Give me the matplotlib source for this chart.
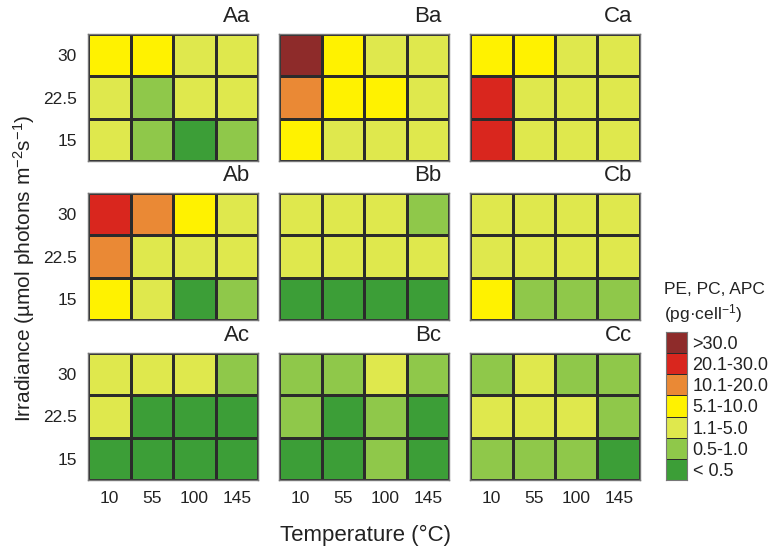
import numpy as np
import matplotlib
matplotlib.use("Agg")
import matplotlib.pyplot as plt
from matplotlib.colors import ListedColormap, BoundaryNorm

plt.rcParams['font.family'] = ['Liberation Sans', 'DejaVu Sans']
plt.rcParams['mathtext.default'] = 'regular'

# data: class index per cell (0 = "< 0.5" ... 6 = ">30.0")
temps = ['10', '55', '100', '145']
irrad = ['30', '22.5', '15']
classes = ['< 0.5', '0.5-1.0', '1.1-5.0', '5.1-10.0', '10.1-20.0', '20.1-30.0', '>30.0']
class_colors = ['#3c9e37', '#8fc84a', '#dfe84d', '#fff200', '#ea8935', '#d9261e', '#8e2b2a']

Aa = [[3, 3, 2, 2], [2, 1, 2, 2], [2, 1, 0, 1]]
Ba = [[6, 3, 2, 2], [4, 3, 3, 2], [3, 2, 2, 2]]
Ca = [[3, 3, 2, 2], [5, 2, 2, 2], [5, 2, 2, 2]]
Ab = [[5, 4, 3, 2], [4, 2, 2, 2], [3, 2, 0, 1]]
Bb = [[2, 2, 2, 1], [2, 2, 2, 2], [0, 0, 0, 0]]
Cb = [[2, 2, 2, 2], [2, 2, 2, 2], [3, 1, 1, 1]]
Ac = [[2, 2, 2, 1], [2, 0, 0, 0], [0, 0, 0, 0]]
Bc = [[1, 1, 2, 1], [1, 0, 1, 0], [0, 0, 1, 0]]
Cc = [[1, 2, 1, 1], [2, 2, 2, 1], [1, 1, 1, 0]]

panels = [[('Aa', Aa), ('Ba', Ba), ('Ca', Ca)],
          [('Ab', Ab), ('Bb', Bb), ('Cb', Cb)],
          [('Ac', Ac), ('Bc', Bc), ('Cc', Cc)]]

cmap = ListedColormap(class_colors)
norm = BoundaryNorm(np.arange(-0.5, 7.5, 1), cmap.N)

W, H = 778, 549
fig = plt.figure(figsize=(W / 100, H / 100), dpi=100)

lefts = [88, 279, 470]
tops = [34, 193, 353]
pw, ph = 170, 127

for r in range(3):
    for c in range(3):
        name, grid = panels[r][c]
        ax = fig.add_axes([lefts[c] / W, 1 - (tops[r] + ph) / H, pw / W, ph / H])
        ax.pcolormesh(np.array(grid), cmap=cmap, norm=norm,
                      edgecolors='#2b2b2b', linewidth=0.75)
        ax.set_xlim(0, 4)
        ax.set_ylim(3, 0)
        ax.set_xticks(np.arange(4) + 0.5)
        ax.set_yticks(np.arange(3) + 0.5)
        ax.tick_params(length=0, labelsize=12.5, colors='#222222', pad=8)
        if c == 0:
            ax.set_yticklabels(irrad)
        else:
            ax.set_yticklabels([])
        if r == 2:
            ax.set_xticklabels(temps)
        else:
            ax.set_xticklabels([])
        for s in ax.spines.values():
            s.set_color('#777777')
            s.set_linewidth(1.0)
        ax.text(1 - 8 / pw, 1 + 7 / ph, name, transform=ax.transAxes, ha='right',
                va='bottom', fontsize=16, color='#222222')

fig.text(366 / W, 1 - 535 / H, 'Temperature (°C)', ha='center', va='center',
         fontsize=16, color='#222222')
fig.text(24 / W, 1 - 268 / H, r'Irradiance (µmol photons m$^{-2}$s$^{-1}$)',
         ha='center', va='center', rotation=90, fontsize=15, color='#222222')

# legend
lax = fig.add_axes([666 / W, 1 - 480 / H, 21 / W, 148 / H])
lax.pcolormesh(np.arange(7)[::-1].reshape(-1, 1), cmap=cmap, norm=norm,
               edgecolors='#2b2b2b', linewidth=0.7)
lax.set_ylim(7, 0)
lax.set_xticks([])
lax.set_yticks(np.arange(7) + 0.5)
lax.set_yticklabels(classes[::-1])
lax.yaxis.tick_right()
lax.tick_params(length=0, labelsize=13, colors='#222222', pad=4)
for s in lax.spines.values():
    s.set_color('#777777')
fig.text(664 / W, 1 - 290 / H, 'PE, PC, APC', ha='left', va='center',
         fontsize=12.5, color='#222222')
fig.text(664 / W, 1 - 314 / H, r'(pg·cell$^{-1}$)', ha='left', va='center',
         fontsize=12.5, color='#222222')

fig.savefig('out.png', dpi=100)
